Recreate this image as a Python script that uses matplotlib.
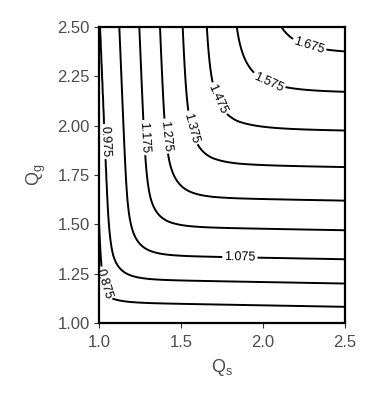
import numpy as np
import matplotlib
matplotlib.use("Agg")
import matplotlib.pyplot as plt

plt.rcParams['font.family'] = ['Liberation Sans', 'DejaVu Sans']

# contour levels
levels = [0.875, 0.975, 1.075, 1.175, 1.275, 1.375, 1.475, 1.575, 1.675]
# Qs where each contour's vertical branch meets the top edge (Qg = 2.5)
qs_top = [0.95, 1.006, 1.124, 1.246, 1.372, 1.51, 1.655, 1.825, 2.035]
# Qg where each contour's horizontal branch meets the right edge (Qs = 2.5)
qg_right = [1.082, 1.20, 1.323, 1.47, 1.62, 1.79, 1.975, 2.17, 2.37]
# label positions (Qs, Qg)
label_pos = [(1.04, 1.20), (1.04, 1.92), (1.86, 1.34), (1.29, 1.94), (1.45, 1.95),
             (1.62, 2.00), (1.77, 2.15), (2.02, 2.19), (2.27, 2.37)]

xticks = [1.0, 1.5, 2.0, 2.5]
yticks = [1.00, 1.25, 1.50, 1.75, 2.00, 2.25, 2.50]


def interp_ext(x, xp, fp):
    xp = np.asarray(xp); fp = np.asarray(fp)
    y = np.interp(x, xp, fp)
    lo = x < xp[0]
    hi = x > xp[-1]
    s0 = (fp[1] - fp[0]) / (xp[1] - xp[0])
    s1 = (fp[-1] - fp[-2]) / (xp[-1] - xp[-2])
    y = np.where(lo, fp[0] + s0 * (x - xp[0]), y)
    y = np.where(hi, fp[-1] + s1 * (x - xp[-1]), y)
    return y


qs = np.linspace(1.0, 2.5, 400)
qg = np.linspace(1.0, 2.5, 400)
QS, QG = np.meshgrid(qs, qg)
slant_s = 0.05
slant_g = 0.015
k = 0.07
A = interp_ext(QS - slant_s * (2.5 - QG), qs_top, levels)
B = interp_ext(QG - slant_g * (2.5 - QS), qg_right, levels)
Z = -k * np.log(np.exp(-A / k) + np.exp(-B / k))

fig = plt.figure(figsize=(3.8, 4.0), dpi=100)
ax = fig.add_axes([0.2605, 0.1925, 0.647, 0.74])
cs = ax.contour(QS, QG, Z, levels=levels, colors='black', linewidths=1.4)
ax.clabel(cs, levels, fmt='%.3f', fontsize=9, inline=True, inline_spacing=2,
          manual=label_pos)

ax.set_xlim(1.0, 2.5)
ax.set_ylim(1.0, 2.5)
ax.set_xticks(xticks)
ax.set_xticklabels(['1.0', '1.5', '2.0', '2.5'])
ax.set_yticks(yticks)
ax.set_yticklabels(['%.2f' % v for v in yticks])
ax.tick_params(axis='both', direction='out', length=3.5, width=0.8, color='#333333',
               labelsize=12, labelcolor='#4D4D4D', pad=3)
ax.tick_params(axis='x', pad=5)
for sp in ax.spines.values():
    sp.set_linewidth(1.6)
    sp.set_color('black')
ax.set_xlabel('Q$_\\mathregular{s}$', fontsize=13, color='#4D4D4D', labelpad=5)
ax.set_ylabel('Q$_\\mathregular{g}$', fontsize=13, color='#4D4D4D', labelpad=7)

fig.savefig('out.png', dpi=100)
